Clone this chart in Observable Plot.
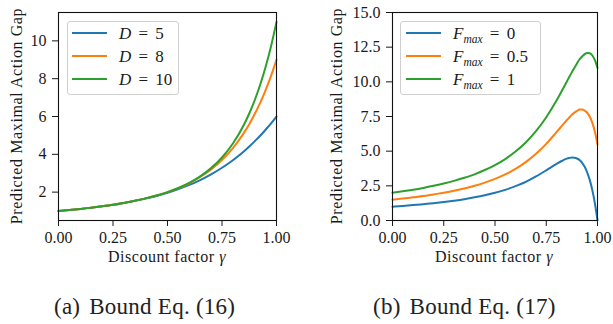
<!DOCTYPE html>
<html>
<head>
<meta charset="utf-8">
<script src="https://cdn.jsdelivr.net/npm/d3@7"></script>
<script src="https://cdn.jsdelivr.net/npm/@observablehq/plot@0.6"></script>
<style>
  body { margin: 0; background: #fff; }
  #wrap { position: relative; width: 613px; height: 324px; overflow: hidden; background: #fff;
          font-family: "Liberation Serif", "Times New Roman", serif; color: #1a1a1a; }
  .panel { position: absolute; top: 0; }
  .ylab { position: absolute; white-space: nowrap; font-size: 16px; letter-spacing: 0.6px; line-height: 1;
          transform: translate(-50%, -50%) rotate(-90deg); }
  .xlab { position: absolute; white-space: nowrap; font-size: 16px; letter-spacing: 0.5px;
          transform: translateX(-50%); line-height: normal; }
  .legend { position: absolute; border: 1px solid #d0d0d0; border-radius: 3px; background: rgba(255,255,255,0.85); }
  .lrow { position: absolute; left: 0; height: 23px; line-height: 23px; white-space: nowrap; font-size: 17px; word-spacing: 3px; }
  .lrow .sw { position: absolute; top: 10.5px; height: 2px; }
  .lrow .tx { position: absolute; }
  .cap { position: absolute; white-space: nowrap; font-size: 23px; letter-spacing: 0.25px; line-height: normal; color: #222; }
  .cap .lab { display: inline-block; margin-right: 9px; }
</style>
</head>
<body>
<div id="wrap"></div>
<script>
// ---------- data ----------
const colors = ["#1f77b4", "#ff7f0e", "#2ca02c"];

// Panel (a): Bound Eq. (16)
const seriesA = ["D = 5", "D = 8", "D = 10"];
const gammaA = [0, 0.05, 0.1, 0.15, 0.2, 0.25, 0.3, 0.35, 0.4, 0.45, 0.5, 0.55, 0.6, 0.65, 0.7, 0.75, 0.8, 0.85, 0.875, 0.9, 0.925, 0.95, 0.975, 1];
const d5  = [1, 1.05, 1.11, 1.18, 1.25, 1.33, 1.43, 1.54, 1.66, 1.80, 1.97, 2.16, 2.38, 2.64, 2.94, 3.29, 3.69, 4.15, 4.41, 4.69, 4.98, 5.30, 5.64, 6];
const d8  = [1, 1.05, 1.11, 1.18, 1.25, 1.33, 1.43, 1.54, 1.67, 1.82, 2.00, 2.21, 2.47, 2.80, 3.20, 3.70, 4.33, 5.12, 5.59, 6.13, 6.72, 7.40, 8.15, 9];
const d10 = [1, 1.05, 1.11, 1.18, 1.25, 1.33, 1.43, 1.54, 1.67, 1.82, 2.00, 2.22, 2.49, 2.83, 3.27, 3.83, 4.57, 5.55, 6.16, 6.86, 7.68, 8.62, 9.72, 11];

// Panel (b): Bound Eq. (17)
const seriesB = ["F = 0", "F = 0.5", "F = 1"];
const gammaB = [0, 0.05, 0.1, 0.15, 0.2, 0.25, 0.3, 0.35, 0.4, 0.45, 0.5, 0.55, 0.6, 0.65, 0.7, 0.75, 0.8,
                0.825, 0.85, 0.8625, 0.875, 0.8875, 0.9, 0.9125, 0.925, 0.9375, 0.95, 0.9625, 0.975, 0.9875, 1];
const f0  = [1, 1.05, 1.11, 1.18, 1.25, 1.33, 1.43, 1.54, 1.67, 1.82, 2.00, 2.21, 2.48, 2.79, 3.18, 3.62, 4.08,
             4.29, 4.46, 4.51, 4.54, 4.53, 4.47, 4.36, 4.16, 3.87, 3.46, 2.91, 2.17, 1.22, 0];
const f05 = [1.5, 1.58, 1.67, 1.76, 1.88, 2.00, 2.14, 2.31, 2.50, 2.73, 3.00, 3.32, 3.72, 4.21, 4.81, 5.53, 6.37,
             6.80, 7.23, 7.43, 7.62, 7.78, 7.90, 8.00, 8.00, 7.93, 7.77, 7.48, 7.04, 6.39, 5.5];
const f1  = [2, 2.11, 2.22, 2.35, 2.5, 2.67, 2.86, 3.08, 3.33, 3.64, 4.00, 4.43, 4.97, 5.63, 6.44, 7.45, 8.65,
             9.32, 10.01, 10.36, 10.70, 11.02, 11.33, 11.63, 11.83, 12.00, 12.08, 12.06, 11.90, 11.56, 11];

// tick values
const xTicks = [0, 0.25, 0.5, 0.75, 1];
const yTicksA = [2, 4, 6, 8, 10];
const yTicksB = [0, 2.5, 5, 7.5, 10, 12.5, 15];

// text
const yLabel = "Predicted Maximal Action Gap";
const legendA = ["5", "8", "10"];
const legendB = ["0", "0.5", "1"];
const captions = [["(a)", "Bound Eq. (16)"], ["(b)", "Bound Eq. (17)"]];

// ---------- build tables ----------
function table(gammas, names, arrays) {
  const rows = [];
  names.forEach((s, i) => arrays[i].forEach((v, j) => rows.push({g: gammas[j], v, s})));
  return rows;
}
const rowsA = table(gammaA, seriesA, [d5, d8, d10]);
const rowsB = table(gammaB, seriesB, [f0, f05, f1]);

const wrap = document.getElementById("wrap");

function panel(left, width, mLeft, mRight, rows, names, yDomain, yTicks, yFmt) {
  const chart = Plot.plot({
    width, height: 245,
    marginLeft: mLeft, marginRight: mRight, marginTop: 12, marginBottom: 25,
    style: {fontFamily: '"Liberation Serif", "Times New Roman", serif', fontSize: "16px", color: "#1a1a1a", background: "transparent", overflow: "visible"},
    x: {domain: [0, 1], ticks: xTicks, tickFormat: d3.format(".2f"), tickSize: 6, tickPadding: 5, label: null},
    y: {domain: yDomain, ticks: yTicks, tickFormat: yFmt, tickSize: 6, tickPadding: 6, label: null},
    color: {domain: names, range: colors},
    marks: [
      Plot.line(rows, {x: "g", y: "v", stroke: "s", strokeWidth: 2, curve: "monotone-x"}),
      Plot.frame({stroke: "#111", strokeWidth: 1.1})
    ]
  });
  const d = document.createElement("div");
  d.className = "panel";
  d.style.left = left + "px";
  d.appendChild(chart);
  wrap.appendChild(d);
}

panel(0, 300, 58, 24, rowsA, seriesA, [0.5, 11.5], yTicksA, d3.format("d"));
panel(300, 313, 92, 16, rowsB, seriesB, [0, 15], yTicksB, d3.format(".1f"));

// axis labels
function addDiv(cls, html, left, top) {
  const d = document.createElement("div");
  d.className = cls;
  d.innerHTML = html;
  d.style.left = left + "px";
  d.style.top = top + "px";
  wrap.appendChild(d);
  return d;
}
addDiv("ylab", yLabel, 17, 116);
addDiv("ylab", yLabel, 337, 116);
addDiv("xlab", "Discount factor <i>γ</i>", 167, 248);
addDiv("xlab", "Discount factor <i>γ</i>", 494, 248);

// legends
function legend(left, top, w, h, lineX, lineW, textX, rowYs, labels) {
  const box = addDiv("legend", "", left, top);
  box.style.width = w + "px";
  box.style.height = h + "px";
  rowYs.forEach((y, i) => {
    const r = addDiv("lrow", "", 0, y - 11.5);
    r.style.width = "613px";
    const sw = document.createElement("span");
    sw.className = "sw";
    sw.style.left = lineX + "px";
    sw.style.width = lineW + "px";
    sw.style.background = colors[i];
    const tx = document.createElement("span");
    tx.className = "tx";
    tx.style.left = textX + "px";
    tx.innerHTML = labels[i];
    r.appendChild(sw);
    r.appendChild(tx);
  });
}
legend(67, 21, 110, 72, 72, 35, 119, [33, 56, 79], legendA.map(v => `<i>D</i> = ${v}`));
legend(400, 21, 139, 72, 406, 35, 453, [33, 56, 79],
  legendB.map(v => `<i>F</i><sub style="font-size:11.5px"><i>max</i></sub> = ${v}`));

// captions
addDiv("cap", `<span class="lab">${captions[0][0]}</span>${captions[0][1]}`, 54, 294);
addDiv("cap", `<span class="lab">${captions[1][0]}</span>${captions[1][1]}`, 373, 294);
</script>
</body>
</html>
